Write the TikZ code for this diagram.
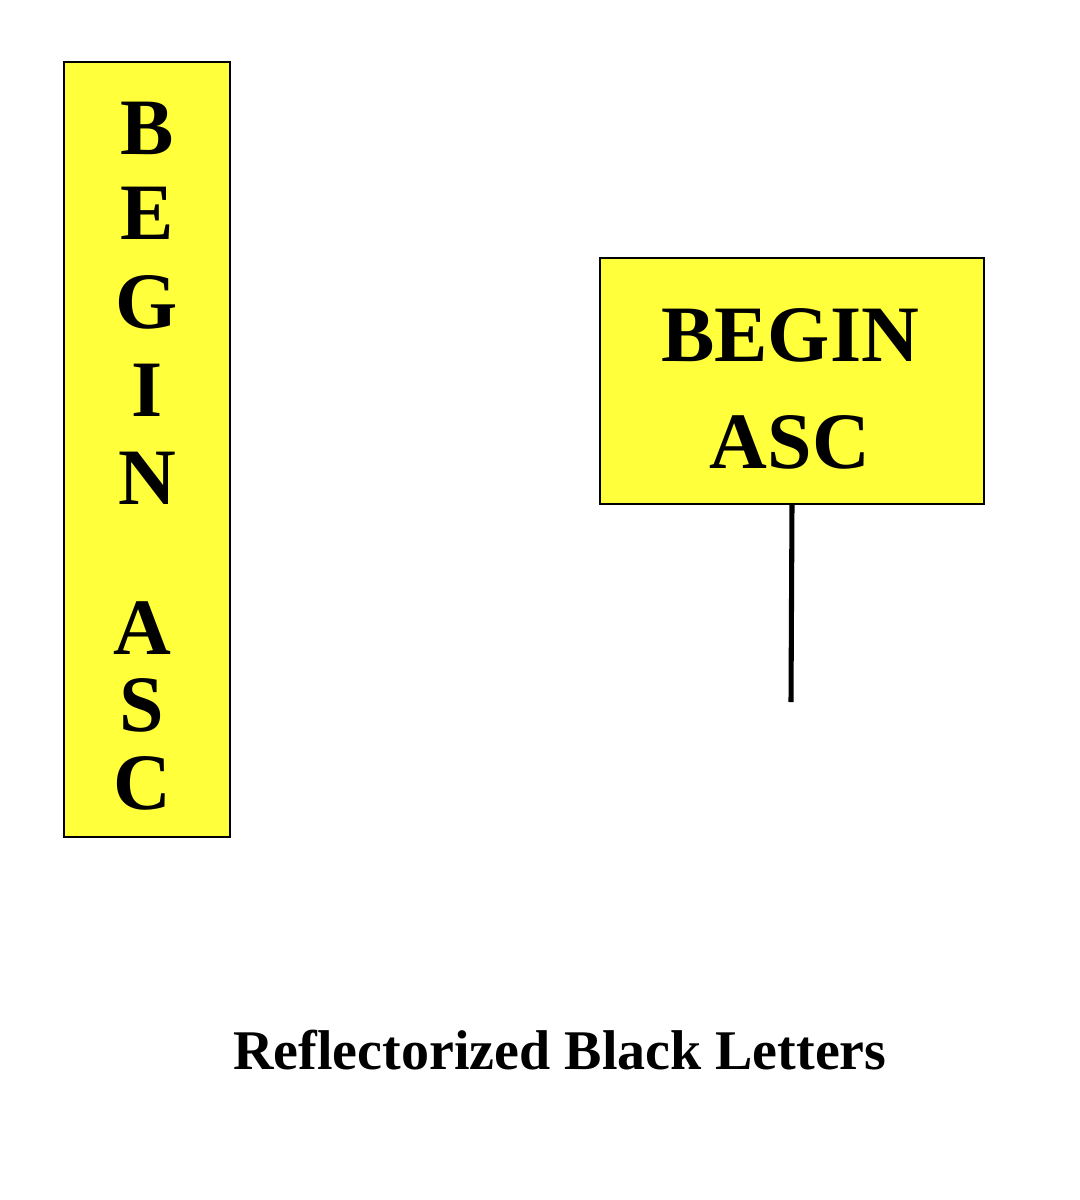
\documentclass[tikz,border=0pt]{standalone}
\usepackage{fontspec}
\setmainfont{Liberation Serif}
\usepackage{xcolor}
\definecolor{signyellow}{RGB}{255,255,59}
\tikzset{
  signbox/.style={draw=black, fill=signyellow, line width=1.2pt},
  letter/.style={inner sep=0.75pt, font=\fontsize{60}{60}\selectfont\bfseries},
  caption/.style={inner sep=0.75pt, font=\fontsize{42}{42}\selectfont\bfseries}
}
\begin{document}
\begin{tikzpicture}[x=0.75pt,y=0.75pt,yscale=-1,xscale=1]
\useasboundingbox (0,0) rectangle (1079,1200);

%Shape: Vertical sign
\draw [signbox] (64,62) rectangle (230,837);
% Text Node
\node [letter] (vB) at (147,128) {B};
\node [letter] (vE) at (147,213) {E};
\node [letter] (vG) at (147,302) {G};
\node [letter] (vI) at (147,390) {I};
\node [letter] (vN) at (147,478) {N};
\node [letter] (vA) at (142,628) {A};
\node [letter] (vS) at (142,705) {S};
\node [letter] (vC) at (142,783) {C};

%Shape: Post sign
\node [signbox, minimum width=288pt, minimum height=184.5pt, inner sep=0pt] (post) at (792,381) {};
% Text Node
\node [letter] (line1) at (790,335) {BEGIN};
\node [letter] (line2) at (790,442) {ASC};
\coordinate (foot) at (791,702);
\draw [line width=3.8pt] (post.south) -- (foot);

% Text Node
\node [caption] (title) at (560,1050) {Reflectorized Black Letters};
\end{tikzpicture}
\end{document}
